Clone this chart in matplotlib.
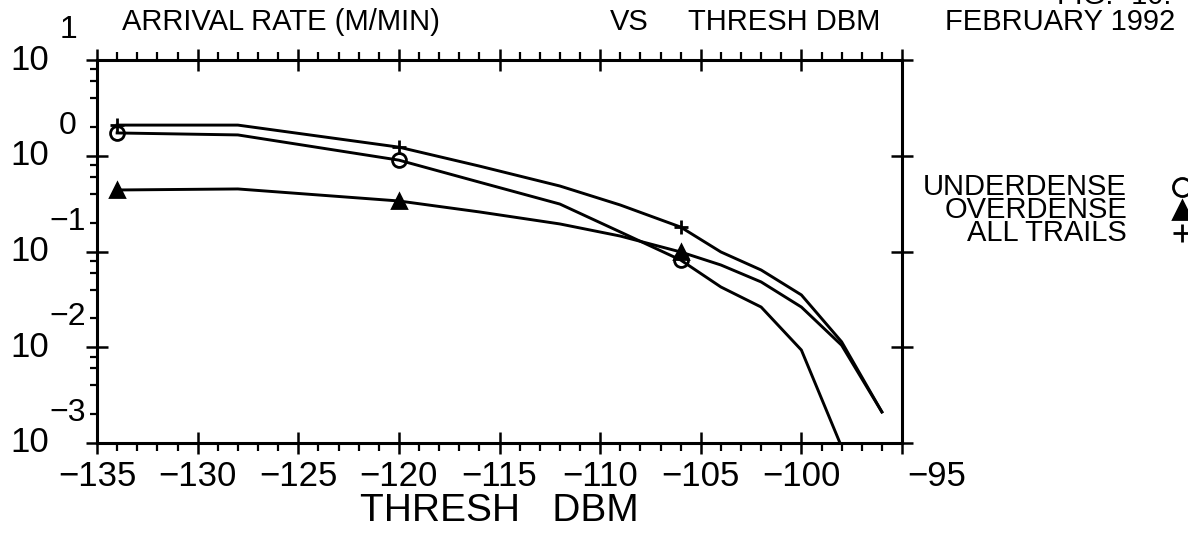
import matplotlib
matplotlib.use("Agg")
import matplotlib.pyplot as plt
from matplotlib.ticker import MultipleLocator, LogLocator, NullFormatter, FixedLocator
from matplotlib.lines import Line2D
from matplotlib.transforms import ScaledTranslation, blended_transform_factory

# Threshold (dBm) and arrival rates (meteors/min)
thresh = [-134, -128, -120, -116, -112, -109, -106, -104, -102, -100, -98, -96]
underdense = [1.73, 1.65, 0.90, 0.53, 0.313, 0.160, 0.0815, 0.0426, 0.0263, 0.00935, 0.00091, None]
overdense = [0.439, 0.450, 0.337, 0.259, 0.194, 0.145, 0.0989, 0.0723, 0.0481, 0.0263, 0.0105, 0.00211]
all_trails = [2.09, 2.09, 1.23, 0.78, 0.483, 0.306, 0.180, 0.0989, 0.0641, 0.0352, 0.0114, 0.00211]
marker_x = [-134, -120, -106]

xticks = list(range(-135, -94, 5))
ydecades = [1e-3, 1e-2, 1e-1, 1e0, 1e1]
yexp = ["-3", "-2", "-1", "0", "1"]

W, H = 1188, 538
plt.rcParams['font.family'] = ['Liberation Sans', 'DejaVu Sans']

fig = plt.figure(figsize=(W / 100, H / 100), dpi=100)
ax = fig.add_axes([97 / W, 1 - 443 / H, (902 - 97) / W, (443 - 60) / H])
ax.set_yscale('log')
ax.set_xlim(-135, -95)
ax.set_ylim(1e-3, 1e1)


def pick(xs, ys, keep):
    return [x for x, y in zip(xs, ys) if x in keep and y is not None], \
           [y for x, y in zip(xs, ys) if x in keep and y is not None]


lw = 2.1
for ys, mk, fill in [(underdense, 'o', 'none'), (overdense, '^', 'black'), (all_trails, '+', 'black')]:
    xs = [x for x, y in zip(thresh, ys) if y is not None]
    yv = [y for y in ys if y is not None]
    ax.plot(xs, yv, color='black', lw=lw, solid_joinstyle='round')
    mx, my = pick(thresh, ys, marker_x)
    ax.plot(mx, my, ls='none', marker=mk, ms=10, mfc=fill, mec='black', mew=2.0)

for s in ax.spines.values():
    s.set_linewidth(2.2)

ax.xaxis.set_major_locator(FixedLocator(xticks))
ax.xaxis.set_minor_locator(MultipleLocator(1))
ax.yaxis.set_major_locator(FixedLocator(ydecades))
ax.yaxis.set_minor_locator(LogLocator(base=10, subs=[2, 4, 6, 8]))
ax.yaxis.set_major_formatter(NullFormatter())
ax.yaxis.set_minor_formatter(NullFormatter())

ax.tick_params(axis='x', which='major', direction='inout', length=16, width=1.8,
               top=True, bottom=True, labelsize=25, pad=4)
ax.tick_params(axis='x', which='minor', direction='out', length=6, width=1.6, top=True, bottom=True)
ax.tick_params(axis='y', which='major', direction='inout', length=16, width=1.8, left=True, right=True)
ax.tick_params(axis='y', which='minor', direction='out', length=5, width=1.6, left=True, right=False)
ax.set_xticklabels(['\u2212' + str(-t) for t in xticks])
lab = ax.get_xticklabels()[-1]
lab.set_transform(lab.get_transform() + ScaledTranslation(0.35, 0, fig.dpi_scale_trans))

# y labels as 10 with raised exponent
tr = blended_transform_factory(fig.transFigure, ax.transData)
for v, e in zip(ydecades, yexp):
    ax.text(30 / W, v, '10', transform=tr, ha='center', va='center', fontsize=25)
    ax.text(68 / W, v, e.replace('-', '\u2212'), transform=tr + ScaledTranslation(0, 0.30, fig.dpi_scale_trans),
            ha='center', va='center', fontsize=23)

ax.set_xlabel('THRESH   DBM', fontsize=28, labelpad=0)

fs = 21
fig.text(122 / W, 1 - 22 / H, 'ARRIVAL RATE (M/MIN)', ha='left', va='center', fontsize=fs)
fig.text(610 / W, 1 - 22 / H, 'VS', ha='left', va='center', fontsize=fs)
fig.text(688 / W, 1 - 22 / H, 'THRESH DBM', ha='left', va='center', fontsize=fs)
fig.text(945 / W, 1 - 22 / H, 'FEBRUARY 1992', ha='left', va='center', fontsize=fs)
# header line mostly cut off at the top edge of the scan
fig.text(1057 / W, 1 + 4 / H, 'FIG.- 10.', ha='left', va='center', fontsize=fs)

# legend block at the right
leg_labels = ['UNDERDENSE', 'OVERDENSE', 'ALL TRAILS']
leg_markers = [('o', 'none'), ('^', 'black'), ('+', 'black')]
fig.text(1127 / W, 1 - 210 / H, '\n'.join(leg_labels), ha='right', va='center',
         multialignment='right', fontsize=fs, linespacing=0.78)
for i, (mk, fill) in enumerate(leg_markers):
    yy = 1 - (187 + 23 * i) / H
    fig.add_artist(Line2D([1182 / W], [yy], transform=fig.transFigure, marker=mk, ms=13,
                          mfc=fill, mec='black', mew=2.0, ls='none'))

fig.savefig('out.png', dpi=100)
